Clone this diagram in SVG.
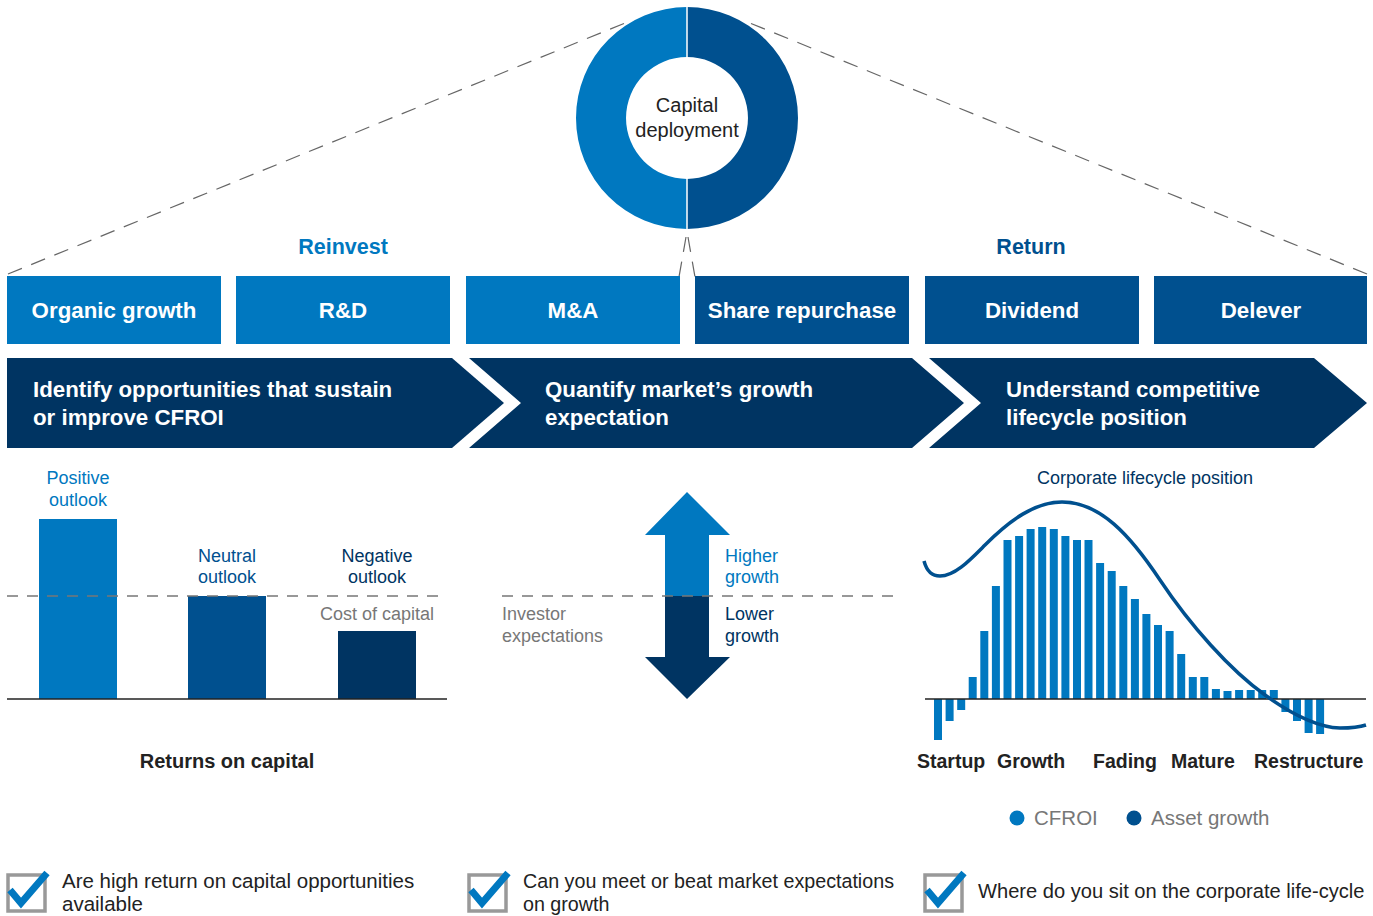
<svg xmlns="http://www.w3.org/2000/svg" width="1373" height="916" viewBox="0 0 1373 916">
<style>
.lb{fill:#0078C0}.db{fill:#00508F}.nv{fill:#003462}
.t{font-family:"Liberation Sans",Arial,sans-serif}
.bw{font-family:"Liberation Sans",Arial,sans-serif;font-weight:bold;fill:#fff;font-size:22.3px}
.lab{font-family:"Liberation Sans",Arial,sans-serif;font-size:18px}
.stg{font-family:"Liberation Sans",Arial,sans-serif;font-weight:bold;font-size:19.5px;fill:#222}
.q{font-family:"Liberation Sans",Arial,sans-serif;fill:#222}
.dash{stroke:#666;stroke-width:1.2;fill:none;stroke-dasharray:15 10}
.hd{stroke:#777;stroke-width:1.3;fill:none;stroke-dasharray:11 9}
.ax{stroke:#222;stroke-width:1.6}
.box{fill:none;stroke:#999;stroke-width:3.5}
.chk{fill:none;stroke:#0078C0;stroke-width:7;stroke-linejoin:miter}
</style>
<rect width="1373" height="916" fill="#fff"/>

<g id="connectors">
<line class="dash" x1="8" y1="274" x2="630" y2="21"/>
<line class="dash" x1="1367" y1="274" x2="745" y2="21"/>
<line class="dash" x1="686" y1="237" x2="679" y2="277"/>
<line class="dash" x1="688" y1="237" x2="695" y2="277"/>
</g>

<g id="capital-deployment">
<path class="lb" d="M687,7 A111,111 0 0 0 687,229 L687,179 A61,61 0 0 1 687,57 Z"/>
<path class="db" d="M687,7 A111,111 0 0 1 687,229 L687,179 A61,61 0 0 0 687,57 Z"/>
<line x1="687" y1="6" x2="687" y2="230" stroke="#fff" stroke-width="1.5"/>
<text class="t" x="687" y="112" font-size="20" fill="#222" text-anchor="middle">Capital</text>
<text class="t" x="687" y="137" font-size="20" fill="#222" text-anchor="middle">deployment</text>
</g>

<g id="reinvest-label"><text class="t" x="343" y="254" font-size="21.5" font-weight="bold" fill="#0078C0" text-anchor="middle">Reinvest</text></g>
<g id="return-label"><text class="t" x="1031" y="254" font-size="21.5" font-weight="bold" fill="#00508F" text-anchor="middle">Return</text></g>

<g id="organic-growth"><rect class="lb" x="7" y="276" width="214" height="68"/><text class="bw" x="114" y="318" text-anchor="middle">Organic growth</text></g>
<g id="rd"><rect class="lb" x="236" y="276" width="214" height="68"/><text class="bw" x="343" y="318" text-anchor="middle">R&amp;D</text></g>
<g id="ma"><rect class="lb" x="466" y="276" width="214" height="68"/><text class="bw" x="573" y="318" text-anchor="middle">M&amp;A</text></g>
<g id="share-repurchase"><rect class="db" x="695" y="276" width="214" height="68"/><text class="bw" x="802" y="318" text-anchor="middle">Share repurchase</text></g>
<g id="dividend"><rect class="db" x="925" y="276" width="214" height="68"/><text class="bw" x="1032" y="318" text-anchor="middle">Dividend</text></g>
<g id="delever"><rect class="db" x="1154" y="276" width="213" height="68"/><text class="bw" x="1261" y="318" text-anchor="middle">Delever</text></g>

<g id="chevron-1"><polygon class="nv" points="7,358 452,358 504,403 452,448 7,448"/>
<text class="bw" x="33" y="397">Identify opportunities that sustain</text><text class="bw" x="33" y="425">or improve CFROI</text></g>
<g id="chevron-2"><polygon class="nv" points="469,358 912,358 964,403 912,448 469,448 521,403"/>
<text class="bw" x="545" y="397">Quantify market’s growth</text><text class="bw" x="545" y="425">expectation</text></g>
<g id="chevron-3"><polygon class="nv" points="929,358 1314,358 1367,403 1314,448 929,448 981,403"/>
<text class="bw" x="1006" y="397">Understand competitive</text><text class="bw" x="1006" y="425">lifecycle position</text></g>

<g id="returns-chart">
<rect class="lb" x="39" y="519" width="78" height="180"/>
<rect class="db" x="188" y="596" width="78" height="103"/>
<rect class="nv" x="338" y="631" width="78" height="68"/>
<line class="ax" x1="7" y1="699" x2="447" y2="699"/>
<line class="hd" x1="7" y1="596" x2="447" y2="596"/>
<text class="lab" x="78" y="484" fill="#0078C0" text-anchor="middle">Positive</text>
<text class="lab" x="78" y="506" fill="#0078C0" text-anchor="middle">outlook</text>
<text class="lab" x="227" y="562" fill="#00508F" text-anchor="middle">Neutral</text>
<text class="lab" x="227" y="583" fill="#00508F" text-anchor="middle">outlook</text>
<text class="lab" x="377" y="562" fill="#003462" text-anchor="middle">Negative</text>
<text class="lab" x="377" y="583" fill="#003462" text-anchor="middle">outlook</text>
<text class="lab" x="377" y="620" fill="#777" text-anchor="middle">Cost of capital</text>
<text class="stg" x="227" y="768" text-anchor="middle" style="font-size:20px">Returns on capital</text>
</g>

<g id="growth-arrow">
<polygon class="lb" points="687,492 730,535 709,535 709,596 665,596 665,535 645,535"/>
<polygon class="nv" points="665,596 709,596 709,657 730,657 687,699 645,657 665,657"/>
<line class="hd" x1="502" y1="596" x2="893" y2="596"/>
<text class="lab" x="502" y="620" fill="#777">Investor</text>
<text class="lab" x="502" y="642" fill="#777">expectations</text>
<text class="lab" x="725" y="562" fill="#0078C0">Higher</text>
<text class="lab" x="725" y="583" fill="#0078C0">growth</text>
<text class="lab" x="725" y="620" fill="#003462">Lower</text>
<text class="lab" x="725" y="642" fill="#003462">growth</text>
</g>

<g id="lifecycle-chart">
<text class="lab" x="1145" y="484" fill="#003462" text-anchor="middle">Corporate lifecycle position</text>
<g class="lb">
<rect x="934" y="699" width="8" height="41"/>
<rect x="945.6" y="699" width="8" height="22"/>
<rect x="957.2" y="699" width="8" height="11"/>
<rect x="968.7" y="677" width="8" height="22"/>
<rect x="980.3" y="631" width="8" height="68"/>
<rect x="991.9" y="586" width="8" height="113"/>
<rect x="1003.5" y="540" width="8" height="159"/>
<rect x="1015.1" y="536" width="8" height="163"/>
<rect x="1026.6" y="529" width="8" height="170"/>
<rect x="1038.2" y="527" width="8" height="172"/>
<rect x="1049.8" y="529" width="8" height="170"/>
<rect x="1061.4" y="536" width="8" height="163"/>
<rect x="1073" y="540" width="8" height="159"/>
<rect x="1084.5" y="540" width="8" height="159"/>
<rect x="1096.1" y="563" width="8" height="136"/>
<rect x="1107.7" y="571" width="8" height="128"/>
<rect x="1119.3" y="586" width="8" height="113"/>
<rect x="1130.9" y="599" width="8" height="100"/>
<rect x="1142.4" y="614" width="8" height="85"/>
<rect x="1154" y="625" width="8" height="74"/>
<rect x="1165.6" y="631" width="8" height="68"/>
<rect x="1177.2" y="654" width="8" height="45"/>
<rect x="1188.8" y="677" width="8" height="22"/>
<rect x="1200.3" y="677" width="8" height="22"/>
<rect x="1211.9" y="689" width="8" height="10"/>
<rect x="1223.5" y="691" width="8" height="8"/>
<rect x="1235.1" y="690" width="8" height="9"/>
<rect x="1246.7" y="690" width="8" height="9"/>
<rect x="1258.2" y="690" width="8" height="9"/>
<rect x="1269.8" y="690" width="8" height="9"/>
<rect x="1281.4" y="699" width="8" height="13"/>
<rect x="1293" y="699" width="8" height="22"/>
<rect x="1304.6" y="699" width="8" height="34"/>
<rect x="1316.1" y="699" width="8" height="35"/>
</g>
<line class="ax" x1="925" y1="699" x2="1366" y2="699"/>
<path d="M924,561 C927,572 932,576 940,576 C955,576 970,560 985,545 C1010,520 1035,502 1062,502 C1100,502 1130,535 1160,580 C1190,625 1230,670 1265,695 C1290,713 1315,727 1340,728 C1350,728 1360,727 1366,725" fill="none" stroke="#00508F" stroke-width="3.5"/>
<text class="stg" x="917" y="768">Startup</text>
<text class="stg" x="997" y="768">Growth</text>
<text class="stg" x="1093" y="768">Fading</text>
<text class="stg" x="1171" y="768">Mature</text>
<text class="stg" x="1254" y="768">Restructure</text>
</g>

<g id="legend">
<circle class="lb" cx="1017" cy="818" r="7.5"/>
<text class="t" x="1034" y="825" font-size="20.5" fill="#777">CFROI</text>
<circle class="db" cx="1134" cy="818" r="7.5"/>
<text class="t" x="1151" y="825" font-size="20.5" fill="#777">Asset growth</text>
</g>

<g id="question-1">
<rect class="box" x="8" y="875" width="37" height="36"/>
<polyline class="chk" points="10,890 21,903 47,873"/>
<text class="q" x="62" y="888" style="font-size:20.5px">Are high return on capital opportunities</text>
<text class="q" x="62" y="911" style="font-size:20.5px">available</text>
</g>
<g id="question-2">
<rect class="box" x="469" y="875" width="37" height="36"/>
<polyline class="chk" points="471,890 482,903 508,873"/>
<text class="q" x="523" y="888" style="font-size:19.7px">Can you meet or beat market expectations</text>
<text class="q" x="523" y="911" style="font-size:19.7px">on growth</text>
</g>
<g id="question-3">
<rect class="box" x="925" y="875" width="37" height="36"/>
<polyline class="chk" points="927,890 938,903 964,873"/>
<text class="q" x="978" y="898" style="font-size:20.1px">Where do you sit on the corporate life-cycle</text>
</g>
</svg>
